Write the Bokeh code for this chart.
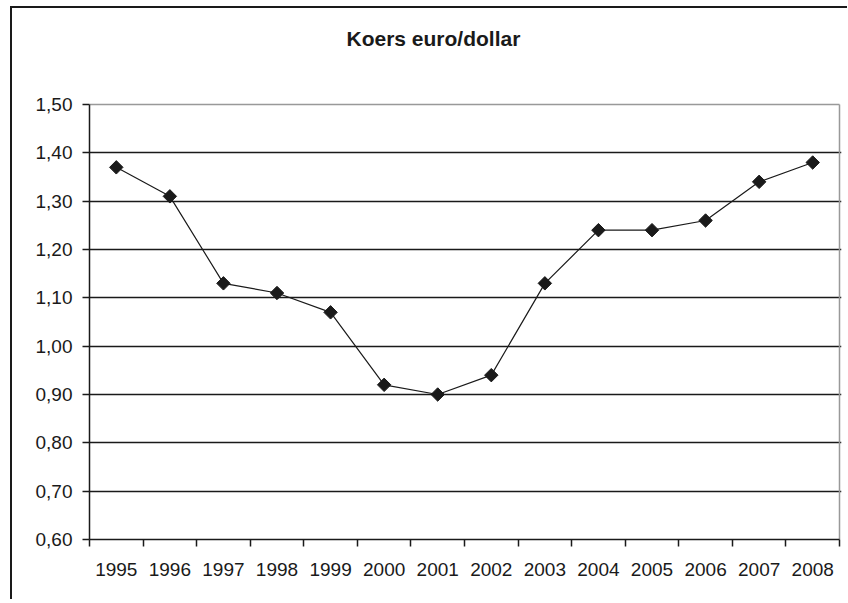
import math
from bokeh.plotting import figure
from bokeh.models import FixedTicker, CustomJSTickFormatter, ColumnDataSource, Label
from bokeh.embed import file_html
from bokeh.resources import INLINE

title_text = "Koers euro/dollar"
years = ["1995", "1996", "1997", "1998", "1999", "2000", "2001",
         "2002", "2003", "2004", "2005", "2006", "2007", "2008"]
rates = [1.37, 1.31, 1.13, 1.11, 1.07, 0.92, 0.90,
         0.94, 1.13, 1.24, 1.24, 1.26, 1.34, 1.38]
y_ticks = [0.6, 0.7, 0.8, 0.9, 1.0, 1.1, 1.2, 1.3, 1.4, 1.5]

n = len(years)
y_lo, y_hi = y_ticks[0], y_ticks[-1]
xs = [i + 0.5 for i in range(n)]
src = ColumnDataSource(dict(x=xs, y=rates))

# plot area: 750 x 435 px for the data box; frame extended upward for the title
box_w, box_h = 750, 435
frame_h = 531
frame_w = 752
y_top = y_lo + (y_hi - y_lo) * frame_h / box_h
x_right = n * frame_w / box_w

p = figure(frame_width=frame_w, frame_height=frame_h,
           x_range=(0, x_right), y_range=(y_lo, y_top),
           output_backend="svg", toolbar_location=None,
           min_border_left=77, min_border_right=6,
           min_border_top=0, min_border_bottom=60)

p.styles = {"border-left": "2px solid #1a1a1a", "border-top": "2px solid #1a1a1a",
            "margin-left": "10px", "margin-top": "6px"}

title = Label(x=6.42, y=1.6366, text=title_text,
              text_align="center", text_baseline="middle",
              text_font="Liberation Sans", text_font_size="21px",
              text_font_style="bold", text_color="#1a1a1a")
p.add_layout(title)

# gray top and right edges of the plot box
p.segment(x0=[0, n], y0=[y_hi, y_lo], x1=[n, n], y1=[y_hi, y_hi],
          line_color="#999999", line_width=1.5)

p.line("x", "y", source=src, line_color="#1a1a1a", line_width=1.2)
p.scatter("x", "y", source=src, marker="square", size=9.5, angle=math.pi / 4,
          fill_color="#1a1a1a", line_color="#1a1a1a")

# x axis
p.xaxis.bounds = (0, n)
p.xaxis.ticker = FixedTicker(ticks=xs, minor_ticks=list(range(n + 1)))
p.xaxis.major_label_overrides = {x: y for x, y in zip(xs, years)}
p.xaxis.major_tick_out = 0
p.xaxis.major_tick_in = 0
p.xaxis.minor_tick_out = 7
p.xaxis.minor_tick_in = 0
p.xaxis.minor_tick_line_color = "#1a1a1a"
p.xaxis.minor_tick_line_width = 1.5
p.xaxis.axis_line_color = "#1a1a1a"
p.xaxis.axis_line_width = 1.5
p.xaxis.major_label_standoff = 16
p.xaxis.major_label_text_font = "Liberation Sans"
p.xaxis.major_label_text_font_size = "19px"
p.xaxis.major_label_text_color = "#1a1a1a"

# y axis
p.yaxis.bounds = (y_lo, y_hi)
p.yaxis.ticker = FixedTicker(ticks=y_ticks)
p.yaxis.formatter = CustomJSTickFormatter(code="return tick.toFixed(2).replace('.', ',');")
p.yaxis.major_tick_out = 7
p.yaxis.major_tick_in = 0
p.yaxis.minor_tick_line_color = None
p.yaxis.major_tick_line_color = "#1a1a1a"
p.yaxis.major_tick_line_width = 1.5
p.yaxis.axis_line_color = "#1a1a1a"
p.yaxis.axis_line_width = 1.5
p.yaxis.major_label_standoff = 10
p.yaxis.major_label_text_font = "Liberation Sans"
p.yaxis.major_label_text_font_size = "19px"
p.yaxis.major_label_text_color = "#1a1a1a"

p.xgrid.grid_line_color = None
p.ygrid.ticker = FixedTicker(ticks=y_ticks[1:-1])
p.ygrid.bounds = (0, n)
p.ygrid.grid_line_color = "#1a1a1a"
p.ygrid.grid_line_width = 1.3

p.outline_line_color = None

open("out.html", "w").write(file_html(p, INLINE))
